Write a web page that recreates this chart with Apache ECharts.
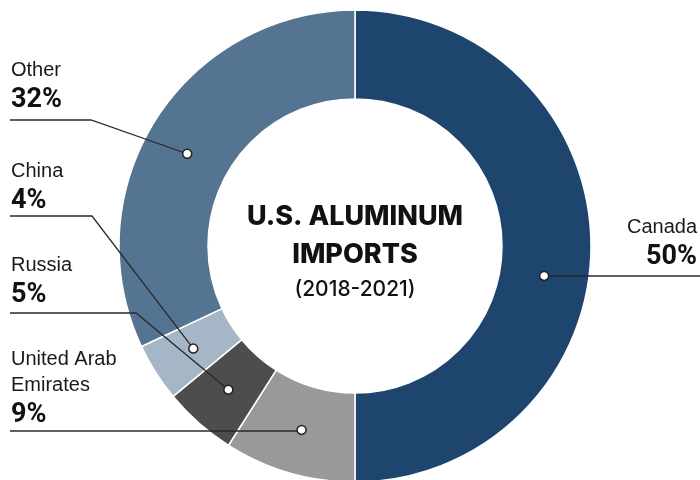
<!DOCTYPE html>
<html>
<head>
<meta charset="utf-8">
<script src="https://cdn.jsdelivr.net/npm/echarts@6/dist/echarts.min.js"></script>
<style>
  html, body { margin: 0; padding: 0; background: #fff; }
  #chart { width: 700px; height: 480px; }
</style>
</head>
<body>
<div id="chart"></div>
<script>
// data, clockwise from 12 o'clock
const categories = ['Canada', 'United Arab Emirates', 'Russia', 'China', 'Other']
const shares = [50, 9, 5, 4, 32]
const sliceColors = ['#1d456d', '#999999', '#4d4d4d', '#a5b6c7', '#557491']

// where each label sits and how its leader runs
const labelSpots = [
  { x: 697, y: 214, align: 'right', lineY: 276, nudge: 2.5 },
  { x: 11, y: 346, align: 'left', lineY: 431 },
  { x: 11, y: 252, align: 'left', lineY: 313, elbowX: 136 },
  { x: 11, y: 158, align: 'left', lineY: 216, elbowX: 92 },
  { x: 11, y: 57, align: 'left', lineY: 120, elbowX: 91, nudge: -1 },
]

const CX = 355, CY = 246, R0 = 147, R1 = 236
const dotR = (R0 + R1) / 2

// mid angle of every slice (in share units, 0..100)
let acc = 0
const midShares = shares.map((v, i) => {
  const m = acc + v / 2 + (labelSpots[i].nudge || 0)
  acc += v
  return m
})

function wrapName(name) {
  return name === 'United Arab Emirates' ? 'United Arab\nEmirates' : name
}

const chart = echarts.init(document.getElementById('chart'))

chart.setOption({
  animation: false,
  title: {
    text: 'U.S. ALUMINUM\nIMPORTS',
    subtext: '(2018-2021)',
    left: CX,
    top: 198,
    textAlign: 'center',
    padding: 0,
    itemGap: 3,
    textStyle: { fontFamily: 'Inter', fontWeight: 800, fontSize: 27, lineHeight: 38, color: '#111' },
    subtextStyle: { fontFamily: 'Inter', fontWeight: 500, fontSize: 21, lineHeight: 25, color: '#111' },
  },
  polar: { center: [CX, CY], radius: R1 },
  angleAxis: { type: 'value', min: 0, max: 100, startAngle: 90, clockwise: true, show: false },
  radiusAxis: { type: 'value', min: 0, max: R1, show: false },
  series: [
    {
      type: 'pie',
      center: [CX, CY],
      radius: [R0, R1],
      startAngle: 90,
      clockwise: true,
      avoidLabelOverlap: false,
      silent: true,
      itemStyle: { borderColor: '#fff', borderWidth: 1.5 },
      label: {
        show: true,
        position: 'outside',
        formatter: p => `{n|${wrapName(p.name)}}\n{p|${p.value}%}`,
        rich: {
          n: { fontFamily: 'Liberation Sans', fontSize: 20, lineHeight: 26, color: '#1a1a1a' },
          p: { fontFamily: 'Roboto', fontWeight: 'bold', fontSize: 27, lineHeight: 34, color: '#111' },
        },
      },
      labelLine: { show: false },
      labelLayout: params => {
        const s = labelSpots[params.dataIndex]
        return { x: s.x, y: s.y, align: s.align, verticalAlign: 'top' }
      },
      data: categories.map((c, i) => ({ name: c, value: shares[i], itemStyle: { color: sliceColors[i] } })),
    },
    {
      type: 'scatter',
      coordinateSystem: 'polar',
      z: 6,
      silent: true,
      symbol: 'circle',
      symbolSize: 9,
      itemStyle: { color: '#fff', borderColor: '#222', borderWidth: 1.5, opacity: 1 },
      data: midShares.map(a => [dotR, a]),
    },
  ],
})

// leader lines, from the label underline to the dot
const leaders = midShares.map((a, i) => {
  const s = labelSpots[i]
  const dot = chart.convertToPixel({ seriesIndex: 1 }, [dotR, a])
  let points
  if (s.align === 'right') {
    points = [[dot[0], s.lineY], [700, s.lineY]]
  } else if (s.elbowX != null) {
    points = [[10, s.lineY], [s.elbowX, s.lineY], dot]
  } else {
    points = [[10, s.lineY], [dot[0], s.lineY]]
  }
  return {
    type: 'polyline',
    z: 5,
    silent: true,
    shape: { points },
    style: { stroke: '#2a2a2a', lineWidth: 1.3, fill: null },
  }
})

chart.setOption({ graphic: leaders })

window.addEventListener('resize', () => chart.resize())
</script>
</body>
</html>
